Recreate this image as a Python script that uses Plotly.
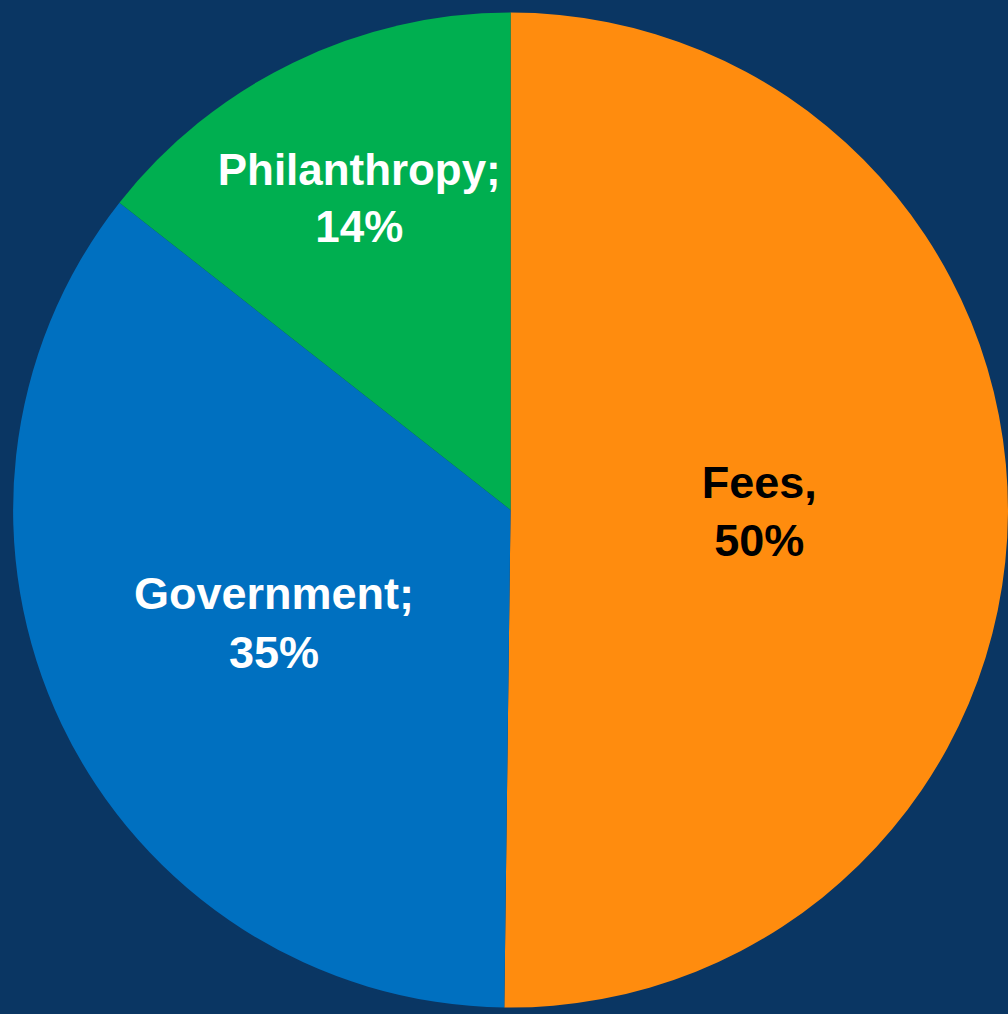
import plotly.graph_objects as go

labels = ["Fees,", "Government;", "Philanthropy;"]
values = [50.2, 35.4, 14.4]
colors = ["#FF8C0E", "#0070C0", "#00AF50"]
text_colors = ["#000000", "#FFFFFF", "#FFFFFF"]

fig = go.Figure(go.Pie(
    labels=labels,
    values=values,
    sort=False,
    direction="clockwise",
    rotation=0,
    marker=dict(colors=colors, line=dict(width=0)),
    texttemplate="%{label}<br>%{percent:.0%}",
    textposition="inside",
    insidetextorientation="horizontal",
    insidetextfont=dict(color=text_colors, family="Liberation Sans, Arial", size=45, weight="bold"),
    hoverinfo="skip",
    domain=dict(x=[0.013, 1], y=[0, 0.994]),
    showlegend=False,
))
fig.update_layout(
    width=1008, height=1014,
    margin=dict(l=0, r=0, t=0, b=0),
    paper_bgcolor="#0A3663",
    plot_bgcolor="#0A3663",
)
fig.write_html("out.html")
